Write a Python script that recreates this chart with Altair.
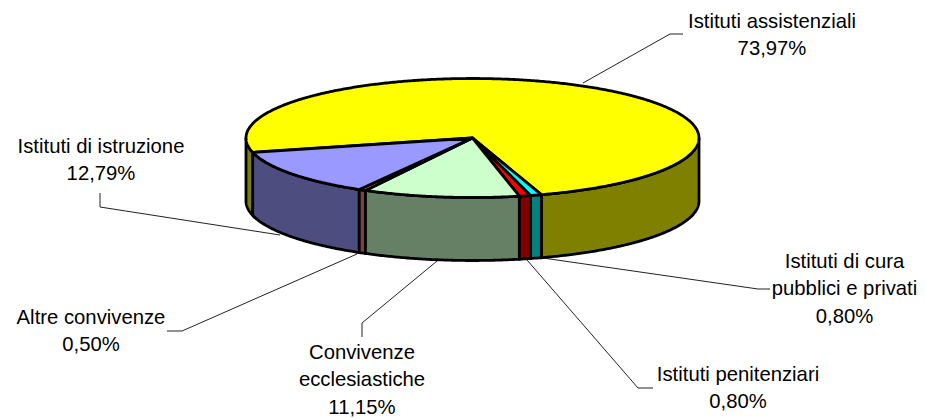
import numpy as np
import altair as alt

# --- chart values ---
names = ["Istituti assistenziali", "Istituti di cura\npubblici e privati", "Istituti penitenziari",
         "Convivenze\necclesiastiche", "Altre convivenze", "Istituti di istruzione"]
shares = [73.97, 0.80, 0.80, 11.15, 0.50, 12.79]
top_colors = ["#FFFF00", "#00FFFF", "#FF0000", "#CCFFCC", "#FF8080", "#9999FF"]
side_colors = ["#808000", "#008080", "#800000", "#668066", "#804040", "#4D4D80"]

# --- layout (page pixels minus the 8px margin) ---
M = 8
CX, CY, RX, RY, DEPTH = 472.5 - M, 138 - M, 226.5, 59.5, 63
FIRST_BOUNDARY = -72.3  # degrees on the ellipse: end of yellow slice going clockwise
label_pos = [(772, 22), (844.5, 262), (738, 375), (362, 353), (91, 318), (101, 147)]
LINE_H = 27.3
leaders = [
    [(583, 83), (670, 34), (683, 34)],
    [(543, 258), (758, 289), (770, 289)],
    [(527, 260), (638, 388), (653, 388)],
    [(437, 261), (362, 323), (362, 337)],
    [(357, 254), (182, 331), (167, 331)],
    [(280, 235), (100, 207), (100, 193)],
]


def pt(t, dz=0):
    a = np.radians(t)
    return [float(CX + RX * np.cos(a)), float(CY - RY * np.sin(a) + dz)]


def arc(t0, t1, dz=0):
    n = max(2, int(abs(t1 - t0) * 2) + 1)
    return [pt(t, dz) for t in np.linspace(t0, t1, n)]


def feature(coords, fill, kind="Polygon"):
    return {"type": "Feature", "properties": {"fill": fill},
            "geometry": {"type": kind, "coordinates": coords}}


def side(t0, t1, fill):
    top = arc(t0, t1)
    bottom = arc(t1, t0, DEPTH)
    ring = top + bottom + [top[0]]
    return feature([ring], fill)


# slice spans on the ellipse: going clockwise from the yellow slice's end
spans = []
t = FIRST_BOUNDARY + shares[0] * 3.6
for s in shares:
    spans.append((t, t - s * 3.6))
    t = t - s * 3.6

# sides, back to front
sides = []
y0, y1 = spans[0]
sides.append(side(y0, 180, side_colors[0]))   # left remainder of the yellow side
sides.append(side(0, y1, side_colors[0]))     # right part of the yellow side
for i in [5, 4, 3, 2, 1]:
    sides.append(side(spans[i][0], spans[i][1], side_colors[i]))

# top faces
apex = [CX, CY]
tops = []
for i in range(len(shares)):
    a = arc(spans[i][0], spans[i][1])
    tops.append(feature([[apex] + a + [apex]], top_colors[i]))

projection = alt.Projection(type="identity", scale=1, translate=[0, 0])

solid = (
    alt.Chart(alt.Data(values=sides + tops))
    .mark_geoshape(stroke="black", strokeWidth=2.8, strokeJoin="miter")
    .encode(fill=alt.Color("properties.fill:N", scale=None, legend=None))
    .project(**projection.to_dict())
)

lines = (
    alt.Chart(alt.Data(values=[
        feature([[x - M, y - M] for x, y in path], "none", "LineString") for path in leaders
    ]))
    .mark_geoshape(filled=False, stroke="#222222", strokeWidth=1)
    .project(**projection.to_dict())
)

rows = []
for name, s, (x, y) in zip(names, shares, label_pos):
    parts = name.split("\n") + [f"{s:.2f}".replace(".", ",") + "%"]
    for j, part in enumerate(parts):
        rows.append({"text": part, "x": x - M, "y": y - M + j * LINE_H})

text = (
    alt.Chart(alt.Data(values=rows))
    .mark_text(font="Liberation Sans", fontSize=20.3, color="black", align="center", baseline="middle")
    .encode(
        x=alt.X("x:Q", scale=None, axis=None),
        y=alt.Y("y:Q", scale=None, axis=None),
        text="text:N",
    )
)

chart = (
    alt.layer(lines, solid, text)
    .properties(width=910, height=411, padding=0, autosize=alt.AutoSizeParams(type="none"))
    .configure_view(stroke=None)
)

chart.save("out.html", embed_options={"renderer": "svg", "actions": False})
